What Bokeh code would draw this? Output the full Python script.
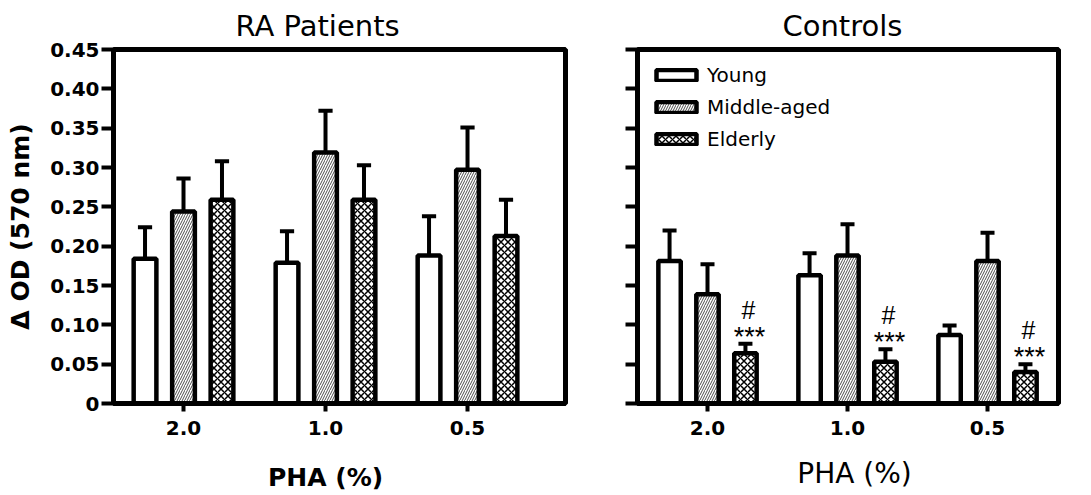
from bokeh.plotting import figure
from bokeh.layouts import row
from bokeh.models import Range1d, FixedTicker, Legend, LegendItem, LinearAxis
from bokeh.core.properties import value
from bokeh.embed import file_html
from bokeh.resources import INLINE

# ---------------- data ----------------
categories = ["2.0", "1.0", "0.5"]
groups = ["Young", "Middle-aged", "Elderly"]

ra_young = [0.184, 0.179, 0.188]
ra_young_err = [0.040, 0.040, 0.050]
ra_middle = [0.244, 0.319, 0.297]
ra_middle_err = [0.042, 0.053, 0.054]
ra_elderly = [0.259, 0.259, 0.213]
ra_elderly_err = [0.049, 0.044, 0.046]

ctrl_young = [0.181, 0.163, 0.087]
ctrl_young_err = [0.039, 0.028, 0.012]
ctrl_middle = [0.139, 0.188, 0.181]
ctrl_middle_err = [0.038, 0.040, 0.036]
ctrl_elderly = [0.064, 0.053, 0.040]
ctrl_elderly_err = [0.012, 0.016, 0.010]

sig_hash = ["#", "#", "#"]
sig_stars = ["***", "***", "***"]

y_ticks = [0, 0.05, 0.1, 0.15, 0.2, 0.25, 0.3, 0.35, 0.4, 0.45]
y_tick_labels = ["0", "0.05", "0.10", "0.15", "0.20", "0.25", "0.30", "0.35", "0.40", "0.45"]

x_title = "PHA (%)"
y_title = "\u0394 OD (570 nm)"

# ---------------- style ----------------
FONT = "DejaVu Sans"
H = 495
BAR_W = 0.16
OFFSET = 0.271
CAP = 0.05
group_styles = [
    dict(fill_color="white"),
    dict(fill_color="white", hatch_pattern="/", hatch_color="black", hatch_scale=5, hatch_weight=0.7),
    dict(fill_color="white", hatch_pattern="x", hatch_color="black", hatch_scale=7, hatch_weight=1.5),
]


def make_panel(title, means, errs, width, xr, borders, title_offset, xlabel_style,
               xlabel_size, xlabel_shift, xlabel_standoff, show_ylabels):
    p = figure(width=width, height=H, x_range=Range1d(*xr), y_range=Range1d(0, 0.45),
               output_backend="svg", toolbar_location=None,
               min_border_left=borders[0], min_border_right=borders[1],
               min_border_top=borders[2], min_border_bottom=borders[3])
    p.background_fill_color = "white"
    p.border_fill_color = "white"
    p.grid.visible = False
    p.outline_line_color = "black"
    p.outline_line_width = 5

    p.title.text = title
    p.title.text_font = FONT
    p.title.text_font_size = "29px"
    p.title.text_font_style = "normal"
    p.title.text_color = "black"
    p.title.align = "left"
    p.title.offset = title_offset
    p.title.standoff = 13

    idx = list(range(len(categories)))
    renderers = []
    for gi, (m, e) in enumerate(zip(means, errs)):
        xs = [i + (gi - 1) * OFFSET for i in idx]
        r = p.vbar(x=xs, top=m, bottom=0, width=BAR_W, line_color="black", line_width=4.5,
                   **group_styles[gi])
        renderers.append(r)
        tops = [a + b for a, b in zip(m, e)]
        p.segment(x0=xs, y0=m, x1=xs, y1=tops, line_color="black", line_width=4)
        p.segment(x0=[x - CAP for x in xs], y0=tops, x1=[x + CAP for x in xs], y1=tops,
                  line_color="black", line_width=4)

    # x axis
    xa = p.xaxis[0]
    xa.ticker = FixedTicker(ticks=idx)
    xa.major_label_overrides = {i: c for i, c in zip(idx, categories)}
    xa.axis_line_width = 5
    xa.major_tick_line_width = 4
    xa.major_tick_out = 8
    xa.major_tick_in = 0
    xa.minor_tick_out = 0
    xa.minor_tick_in = 0
    xa.major_label_standoff = 9
    xa.major_label_text_font = FONT
    xa.major_label_text_font_size = "20px"
    xa.major_label_text_font_style = "bold"
    xa.major_label_text_color = "black"

    # x-axis title: a bare axis row below the tick labels, centred on the middle category
    title_pos = idx[1] + xlabel_shift
    ta = LinearAxis(ticker=FixedTicker(ticks=[title_pos]),
                    major_label_overrides={title_pos: x_title},
                    axis_line_color=None, major_tick_line_color=None,
                    minor_tick_line_color=None, major_tick_out=0, major_tick_in=0,
                    minor_tick_out=0, minor_tick_in=0,
                    major_label_standoff=xlabel_standoff,
                    major_label_text_font=FONT, major_label_text_font_size=xlabel_size,
                    major_label_text_font_style=xlabel_style,
                    major_label_text_color="black")
    p.add_layout(ta, "below")

    # y axis
    ya = p.yaxis[0]
    ya.ticker = FixedTicker(ticks=y_ticks)
    ya.axis_line_width = 5
    ya.major_tick_line_width = 4
    ya.major_tick_out = 12
    ya.major_tick_in = 0
    ya.minor_tick_out = 0
    ya.minor_tick_in = 0
    if show_ylabels:
        ya.major_label_overrides = {t: l for t, l in zip(y_ticks, y_tick_labels)}
        ya.major_label_standoff = 2
        ya.major_label_text_font = FONT
        ya.major_label_text_font_size = "20px"
        ya.major_label_text_font_style = "bold"
        ya.major_label_text_color = "black"
        ya.axis_label = y_title
        ya.axis_label_text_font = FONT
        ya.axis_label_text_font_size = "25px"
        ya.axis_label_text_font_style = "bold"
        ya.axis_label_text_color = "black"
        ya.axis_label_standoff = 12
    else:
        ya.major_label_overrides = {t: "" for t in y_ticks}
        ya.major_label_standoff = 0
    return p, renderers


left, _ = make_panel("RA Patients",
                     [ra_young, ra_middle, ra_elderly],
                     [ra_young_err, ra_middle_err, ra_elderly_err],
                     600, (-0.493, 2.69), (113, 35, 48, 92), 122,
                     "bold", "25px", 0.0, 25, True)

right, rends = make_panel("Controls",
                          [ctrl_young, ctrl_middle, ctrl_elderly],
                          [ctrl_young_err, ctrl_middle_err, ctrl_elderly_err],
                          491, (-0.5, 2.507), (37, 33, 48, 92), 145,
                          "normal", "28px", 0.05, 19, False)

# significance marks above elderly controls
elder_x = [i + OFFSET for i in range(len(categories))]
elder_top = [a + b for a, b in zip(ctrl_elderly, ctrl_elderly_err)]
right.text(x=elder_x, y=elder_top, text=sig_stars, text_align="center",
           text_baseline="alphabetic", x_offset=4, y_offset=-7,
           text_font=value("Liberation Sans"), text_font_size="27px", text_color="black")
right.text(x=elder_x, y=elder_top, text=sig_hash, text_align="center",
           text_baseline="alphabetic", x_offset=3, y_offset=-34,
           text_font=value("Liberation Sans"), text_font_size="25px", text_color="black")

legend = Legend(items=[LegendItem(label=g, renderers=[r]) for g, r in zip(groups, rends)],
                location="top_left", glyph_width=50, glyph_height=14, label_standoff=6,
                label_text_font=FONT, label_text_font_size="20px", label_text_color="black",
                spacing=8, padding=0, margin=14, border_line_color=None,
                background_fill_alpha=0)
right.add_layout(legend)

layout = row(left, right)
open("out.html", "w").write(file_html(layout, INLINE))
